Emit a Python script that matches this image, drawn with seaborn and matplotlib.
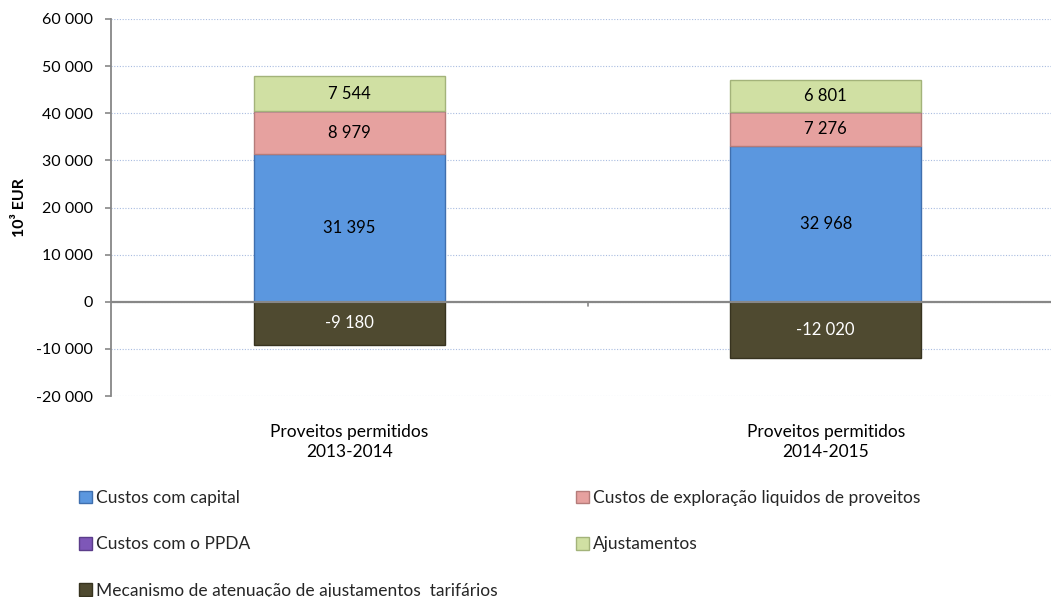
import numpy as np
import pandas as pd
import seaborn as sns
import matplotlib.pyplot as plt
from matplotlib.patches import Patch
from matplotlib.ticker import FuncFormatter, MultipleLocator

categorias = ["Proveitos permitidos\n2013-2014", "Proveitos permitidos\n2014-2015"]
custos_capital = [31395, 32968]
custos_exploracao = [8979, 7276]
custos_ppda = [0, 0]
ajustamentos = [7544, 6801]
mecanismo = [-9180, -12020]

nomes = ["Custos com capital", "Custos de exploração liquidos de proveitos",
         "Custos com o PPDA", "Ajustamentos",
         "Mecanismo de atenuação de ajustamentos  tarifários"]
cores = {"capital": "#5B97DF", "exploracao": "#E6A19F", "ppda": "#7E57B8",
         "ajust": "#D0E0A3", "mecan": "#4F4A30"}
bordas = {"capital": "#3F6FAE", "exploracao": "#B57C7A", "ppda": "#5B3D8A",
          "ajust": "#A3B37A", "mecan": "#37331F"}

sns.set_theme(style="white")
plt.rcParams['font.family'] = ['Lato', 'DejaVu Sans']

fig = plt.figure(figsize=(10.51, 5.97), dpi=100)
ax = fig.add_axes([111 / 1051, 1 - 396 / 597, 953 / 1051, 377 / 597])

df = pd.DataFrame({"cat": categorias, "capital": custos_capital,
                   "exploracao": custos_exploracao, "ppda": custos_ppda,
                   "ajust": ajustamentos, "mecan": mecanismo})

base = np.zeros(len(df))
for col in ["capital", "exploracao", "ppda", "ajust"]:
    sns.barplot(data=df, x="cat", y=col, color=cores[col], bottom=base,
                width=0.4, edgecolor=bordas[col], linewidth=1.0,
                saturation=1, ax=ax, zorder=3)
    base = base + df[col].to_numpy()
sns.barplot(data=df, x="cat", y="mecan", color=cores["mecan"], width=0.4,
            edgecolor=bordas["mecan"], linewidth=1.0, saturation=1, ax=ax, zorder=3)

# rótulos dos valores
fmt = lambda v: f"{v:,.0f}".replace(",", " ")
base = np.zeros(len(df))
for col in ["capital", "exploracao", "ajust"]:
    for i, v in enumerate(df[col]):
        ax.text(i, base[i] + v / 2, fmt(v), ha="center", va="center",
                fontsize=12, color="black", zorder=5)
    base = base + df[col].to_numpy()
for i, v in enumerate(df["mecan"]):
    ax.text(i, v / 2, fmt(v), ha="center", va="center", fontsize=12,
            color="white", zorder=5)

ax.set_xlim(-0.5, 1.5)
ax.set_ylim(-20000, 60000)
ax.yaxis.set_major_locator(MultipleLocator(10000))
ax.yaxis.set_major_formatter(FuncFormatter(lambda v, p: fmt(v)))
ax.grid(axis="y", linestyle=(0, (1, 1.5)), color="#A9BCE0", linewidth=0.8, zorder=0)
ax.grid(axis="x", visible=False)
ax.axhline(0, color="#878787", linewidth=1.6, zorder=4)
ax.plot([0.5, 0.5], [0, -900], color="#878787", linewidth=1.2, zorder=4)

for s in ["top", "right", "bottom"]:
    ax.spines[s].set_visible(False)
ax.spines["left"].set_color("#878787")
ax.spines["left"].set_linewidth(1.3)
ax.tick_params(axis="y", left=True, length=4, width=1.2, color="#878787",
               pad=9, labelsize=11.5, labelcolor="black")
ax.tick_params(axis="x", bottom=False, pad=14, labelsize=12.5, labelcolor="black")
for lbl in ax.get_xticklabels():
    lbl.set_linespacing(1.3)

ax.set_xlabel("")
ax.set_ylabel("10³ EUR", fontsize=11.5, fontweight="bold", color="black")
ax.yaxis.set_label_coords(-0.088, 0.5)

# legenda em duas colunas (ordem por linhas)
h = {c: Patch(facecolor=cores[c], edgecolor=bordas[c]) for c in cores}
leg_kw = dict(frameon=False, fontsize=12.5, handlelength=0.75, handleheight=0.75,
              handletextpad=0.25, labelspacing=1.75, borderpad=0, borderaxespad=0,
              loc="upper left")
fig.legend([h["capital"], h["ppda"], h["mecan"]], [nomes[0], nomes[2], nomes[4]],
           bbox_to_anchor=(79 / 1051, 1 - 490 / 597), **leg_kw)
fig.legend([h["exploracao"], h["ajust"]], [nomes[1], nomes[3]],
           bbox_to_anchor=(576 / 1051, 1 - 490 / 597), **leg_kw)

fig.savefig("out.png", dpi=100)
